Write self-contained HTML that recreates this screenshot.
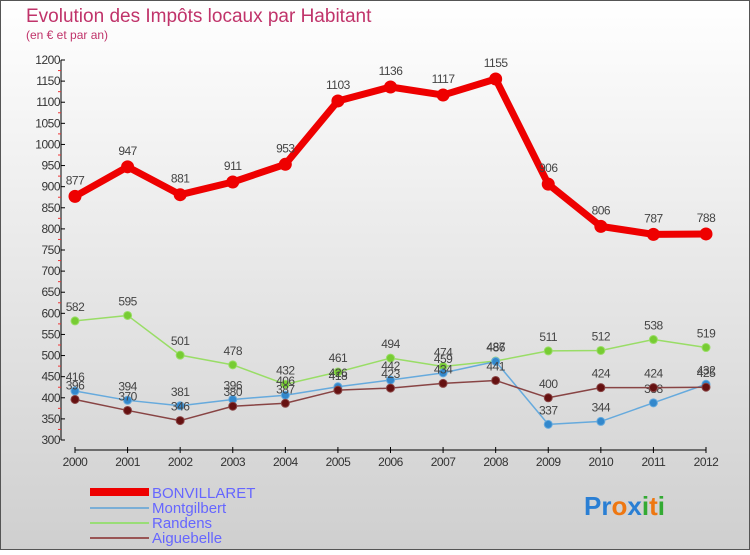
<!DOCTYPE html>
<html><head><meta charset="utf-8"><style>
body{margin:0;width:750px;height:550px;overflow:hidden;font-family:"Liberation Sans",sans-serif}
svg text{font-family:"Liberation Sans",sans-serif}
</style></head><body>
<svg id="c" width="750" height="550" xmlns="http://www.w3.org/2000/svg">
<defs><linearGradient id="bg" x1="0" y1="0" x2="0" y2="1"><stop offset="0" stop-color="#ffffff"/><stop offset="1" stop-color="#cfcfcf"/></linearGradient></defs>
<rect x="0.5" y="0.5" width="749" height="549" fill="url(#bg)" stroke="#555"/>
<text x="26" y="22" font-size="19" fill="#c0336a">Evolution des Impôts locaux par Habitant</text>
<text x="26" y="39" font-size="12" fill="#c0336a">(en € et par an)</text>
<g id="axes"></g><g id="series"></g>
<g>
<rect x="90" y="488" width="59" height="8" fill="#e00"/>
<text x="152" y="498" font-size="15" fill="#6666ff">BONVILLARET</text>
<rect x="90" y="507" width="59" height="2" fill="#7aaed6"/>
<text x="152" y="513" font-size="15" fill="#6666ff">Montgilbert</text>
<rect x="90" y="522" width="59" height="2" fill="#99dd77"/>
<text x="152" y="528" font-size="15" fill="#6666ff">Randens</text>
<rect x="90" y="537" width="59" height="2" fill="#995555"/>
<text x="152" y="543" font-size="15" fill="#6666ff">Aiguebelle</text>
</g>
<text x="584" y="515" font-size="26" font-weight="bold"><tspan fill="#2a7fd4">Pr</tspan><tspan fill="#ee7711">o</tspan><tspan fill="#2a7fd4">x</tspan><tspan fill="#33aa33">i</tspan><tspan fill="#ee7711">t</tspan><tspan fill="#33aa33">i</tspan></text>
</svg>
<script>
const years=[2000,2001,2002,2003,2004,2005,2006,2007,2008,2009,2010,2011,2012];
const bonvillaret=[877,947,881,911,953,1103,1136,1117,1155,906,806,787,788];
const montgilbert=[416,394,381,396,406,426,442,459,486,337,344,388,432];
const randens=[582,595,501,478,432,461,494,474,487,511,512,538,519];
const aiguebelle=[396,370,346,380,387,418,423,434,441,400,424,424,425];
const yTicks=[300,350,400,450,500,550,600,650,700,750,800,850,900,950,1000,1050,1100,1150,1200];
const NS="http://www.w3.org/2000/svg";
const x=i=>75+i*(706-75)/(years.length-1);
const y=v=>440-(v-300)*380/900;
function mk(t,a,p){const e=document.createElementNS(NS,t);for(const k in a)e.setAttribute(k,a[k]);p.appendChild(e);return e;}
const ax=document.getElementById('axes'),se=document.getElementById('series');
let l=mk('line',{x1:61,y1:y(1200),x2:61,y2:y(300),stroke:'#000'},ax);


yTicks.forEach(v=>{
 const t=mk('line',{x1:61,y1:y(v),x2:65,y2:y(v),stroke:'#000'},ax);
 
 
 const m=mk('line',{x1:58,y1:y(v+25),x2:61,y2:y(v+25),stroke:'#e33'},ax);
 if(v==1200)m.remove();
 
 
 const tx=mk('text',{x:60,y:y(v)+4,'font-size':12,'text-anchor':'end',fill:'#333','letter-spacing':'-0.5'},ax);
 tx.textContent=v;
 
 
});
l=mk('line',{x1:x(0),y1:450,x2:x(12),y2:450,stroke:'#000'},ax);


years.forEach((yr,i)=>{
 const t=mk('line',{x1:x(i),y1:447,x2:x(i),y2:453,stroke:'#000'},ax);
 
 
 const tx=mk('text',{x:x(i),y:466,'font-size':12,'text-anchor':'middle',fill:'#333','letter-spacing':'-0.5'},ax);
 tx.textContent=yr;
 
 
});
function draw(data,name,color,dot,w,r){
 const g=mk('g',{},se);
 
 
 const p=mk('polyline',{points:data.map((v,i)=>x(i)+','+y(v)).join(' '),fill:'none',stroke:color,'stroke-width':w,'stroke-linejoin':'round'},g);
 
 
 data.forEach((v,i)=>{
  const c=mk('circle',{cx:x(i),cy:y(v),r:r,fill:dot,stroke:color,'stroke-width':1},g);
  
  
  const t=mk('text',{x:x(i),y:y(v)-(r+6),'font-size':12,'text-anchor':'middle',fill:'#444','letter-spacing':'-0.5'},g);
  t.textContent=v;
  
  
 });
}
draw(randens,'randens','#99dd66','#77cc33',1.5,4);
draw(montgilbert,'montgilbert','#66aadd','#3388cc',1.5,4);
draw(aiguebelle,'aiguebelle','#884444','#661111',1.5,4);
draw(bonvillaret,'bonvillaret','#ee0000','#ee0000',7,6);
</script>
</body></html>
